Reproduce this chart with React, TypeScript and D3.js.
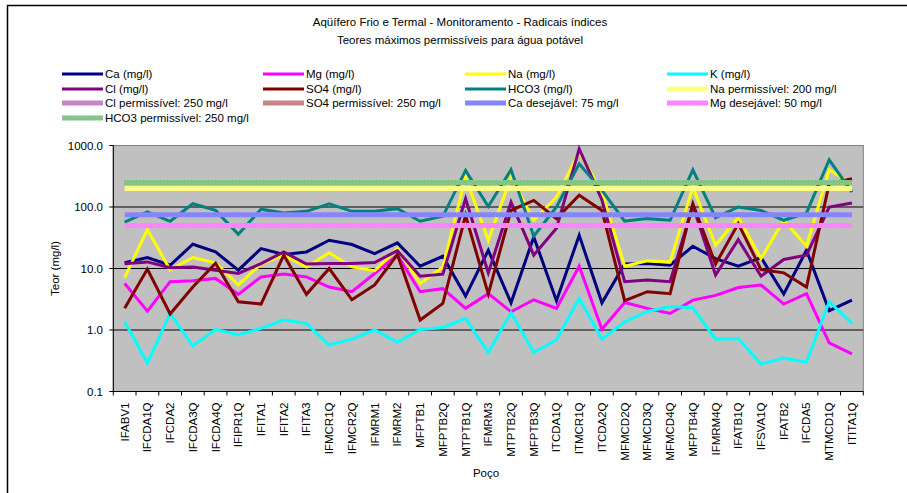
import React from 'react';
import * as d3 from 'd3';

// poços (eixo x)
const categories = [
  'IFABV1', 'IFCDA1Q', 'IFCDA2', 'IFCDA3Q', 'IFCDA4Q', 'IFIPR1Q', 'IFITA1', 'IFITA2', 'IFITA3',
  'IFMCR1Q', 'IFMCR2Q', 'IFMRM1', 'IFMRM2', 'MFPTB1', 'MFPTB2Q', 'MTPTB1Q', 'IFMRM3', 'MTPTB2Q',
  'MFPTB3Q', 'ITCDA1Q', 'ITMCR1Q', 'ITCDA2Q', 'MFMCD2Q', 'MFMCD3Q', 'MFMCD4Q', 'MFPTB4Q',
  'IFMRM4Q', 'IFATB1Q', 'IFSVA1Q', 'IFATB2', 'IFCDA5', 'MTMCD1Q', 'ITITA1Q',
];

const ca = [12.4, 15.1, 11.3, 24.8, 18.6, 9.4, 21.1, 16.9, 18.6, 28.8, 24.5, 17.5, 26.1, 10.9, 15.8, 3.56, 19.8, 2.77, 32.6, 2.99, 34.7, 2.77, 11.8, 12.1, 11.3, 23, 14.5, 10.9, 15.1, 3.84, 19.8, 2.06, 3.06];
const mg = [5.7, 2.03, 6.1, 6.3, 6.9, 3.8, 7.3, 8.1, 7.3, 5.0, 4.2, 8.3, 16.5, 4.2, 4.7, 2.25, 3.9, 1.98, 3.1, 2.25, 10.9, 1.03, 2.8, 2.25, 1.86, 3.06, 3.65, 4.9, 5.4, 2.64, 3.9, 0.62, 0.41];
const na = [7.1, 42.9, 9.5, 15.1, 12.4, 5.4, 11.8, 16.5, 10.6, 18, 10.6, 9.2, 21.1, 5.7, 10.5, 306, 28.8, 306, 60.8, 145, 780, 175, 10.9, 13.3, 12.7, 211, 23.9, 67, 14.5, 60.8, 23, 403, 239];
const k = [1.36, 0.29, 1.86, 0.55, 1.02, 0.83, 1.06, 1.45, 1.28, 0.57, 0.71, 1.0, 0.63, 1.02, 1.1, 1.55, 0.43, 1.91, 0.43, 0.69, 3.26, 0.71, 1.36, 2.0, 2.4, 2.3, 0.71, 0.73, 0.28, 0.35, 0.3, 2.88, 1.28];
const cl = [12.0, 12.8, 10.3, 10.6, 9.4, 8.3, 12.0, 18.6, 11.8, 12.1, 12.1, 12.5, 19.5, 7.5, 8.1, 137, 8.5, 120, 16.5, 45, 883, 130, 6.1, 6.5, 6.1, 106, 7.8, 29.5, 7.5, 14, 16.5, 100, 116];
const so4 = [2.25, 9.8, 1.82, 5.0, 12.2, 2.88, 2.64, 16.5, 3.8, 10, 3.1, 5.4, 16.9, 1.45, 2.7, 73, 3.84, 88, 128, 64.7, 155, 88, 3.0, 4.2, 3.9, 113, 11.8, 53.7, 9.6, 8.5, 5.0, 239, 288];
const hco3 = [57, 83, 58.6, 113, 88, 36, 92, 80, 85, 113, 85, 85, 94, 58.6, 70.6, 393, 102, 403, 33.5, 100, 504, 186, 59, 64.7, 60.8, 403, 67, 100, 88, 60.8, 80, 586, 175];

// limites (mg/l)
const limitNames = ['Na permissível: 200 mg/l', 'Cl permissível: 250 mg/l', 'SO4 permissível: 250 mg/l', 'Ca desejável: 75 mg/l', 'Mg desejável: 50 mg/l', 'HCO3 permissível: 250 mg/l'];
const limitValues = [200, 250, 250, 75, 50, 250];

const yTicks = [0.1, 1, 10, 100, 1000];

const series = [
  { name: 'Ca (mg/l)', values: ca, color: '#000080' },
  { name: 'Mg (mg/l)', values: mg, color: '#FF00FF' },
  { name: 'Na (mg/l)', values: na, color: '#FFFF00' },
  { name: 'K (mg/l)', values: k, color: '#00FFFF' },
  { name: 'Cl (mg/l)', values: cl, color: '#800080' },
  { name: 'SO4 (mg/l)', values: so4, color: '#800000' },
  { name: 'HCO3 (mg/l)', values: hco3, color: '#008080' },
];

const limitColors = [
  ['#FFFF80', '#FFFF99'],
  ['#C080C0', '#D098D0'],
  ['#C08080', '#D09898'],
  ['#8080FF', '#9898FF'],
  ['#FF80FF', '#FF99FF'],
  ['#80C080', '#98D098'],
];

const W = 907;
const H = 493;
const plot = { left: 113.3, right: 863.3, top: 145.5, bottom: 391.5 };
const font = '"Liberation Sans", Arial, sans-serif';

export default function App() {
  const x = d3.scaleBand().domain(categories).range([plot.left, plot.right]);
  const y = d3.scaleLog().domain([0.1, 1000]).range([plot.bottom, plot.top]);
  const cx = (c: string) => (x(c) as number) + x.bandwidth() / 2;

  const line = d3
    .line<number>()
    .x((_, i) => cx(categories[i]))
    .y((d) => y(d));

  const limits = limitNames.map((name, j) => ({
    name,
    values: categories.map(() => limitValues[j]),
    pat: `pat${j}`,
  }));

  // legenda em 4 colunas, ordem do Excel
  const legendItems = [
    ...series.map((s) => ({ name: s.name, stroke: s.color, w: 3 })),
    ...limits.map((l) => ({ name: l.name, stroke: `url(#${l.pat})`, w: 5 })),
  ];
  const colX = [62, 263, 465, 667];
  const rowY = [74, 89, 103, 118];

  return (
    <svg width={W} height={H} style={{ position: 'absolute', left: 0, top: 0 }} fontFamily={font}>
      <defs>
        {limitColors.map(([a, b], j) => (
          <pattern key={j} id={`pat${j}`} width={3} height={3} patternUnits="userSpaceOnUse">
            <rect width={3} height={3} fill={a} />
            <rect x={0} y={0} width={1} height={1} fill={b} />
            <rect x={1.5} y={1.5} width={1} height={1} fill={b} />
          </pattern>
        ))}
      </defs>
      <rect width={W} height={H} fill="#fff" />
      <rect x={7.5} y={5.5} width={W + 20} height={H + 20} fill="none" stroke="#000" strokeWidth={1.5} />

      <text x={460} y={26} textAnchor="middle" fontSize={11.5}>
        Aqüífero Frio e Termal - Monitoramento - Radicais índices
      </text>
      <text x={460} y={44} textAnchor="middle" fontSize={11.5}>
        Teores máximos permissíveis para água potável
      </text>

      {legendItems.map((it, i) => {
        const lx = colX[i % 4];
        const ly = rowY[Math.floor(i / 4)];
        return (
          <g key={it.name}>
            <line x1={lx} x2={lx + 41} y1={ly} y2={ly} stroke={it.stroke} strokeWidth={it.w} />
            <text x={lx + 43} y={ly + 4} fontSize={11.5}>
              {it.name}
            </text>
          </g>
        );
      })}

      <rect
        x={plot.left}
        y={plot.top}
        width={plot.right - plot.left}
        height={plot.bottom - plot.top}
        fill="#C0C0C0"
        stroke="#808080"
      />
      {yTicks.slice(1, -1).map((t) => (
        <line key={t} x1={plot.left} x2={plot.right} y1={y(t)} y2={y(t)} stroke="#000" strokeWidth={1} />
      ))}

      {/* eixo y */}
      <line x1={plot.left} x2={plot.left} y1={plot.top} y2={plot.bottom} stroke="#000" />
      {yTicks.map((t) => (
        <g key={t}>
          <line x1={plot.left - 4} x2={plot.left} y1={y(t)} y2={y(t)} stroke="#000" />
          <text x={103} y={y(t) + 4} textAnchor="end" fontSize={11.5}>
            {t.toFixed(1)}
          </text>
        </g>
      ))}
      <text
        transform={`translate(59,${(plot.top + plot.bottom) / 2}) rotate(-90)`}
        textAnchor="middle"
        fontSize={11.5}
      >
        Teor (mg/l)
      </text>

      {/* eixo x */}
      <line x1={plot.left} x2={plot.right} y1={plot.bottom} y2={plot.bottom} stroke="#000" />
      {categories.map((c) => (
        <line key={c} x1={x(c)} x2={x(c)} y1={plot.bottom} y2={plot.bottom + 4} stroke="#000" />
      ))}
      <line x1={plot.right} x2={plot.right} y1={plot.bottom} y2={plot.bottom + 4} stroke="#000" />
      {categories.map((c) => (
        <text
          key={c}
          transform={`translate(${cx(c) + 4},${plot.bottom + 11}) rotate(-90)`}
          textAnchor="end"
          fontSize={11.5}
        >
          {c}
        </text>
      ))}
      <text x={486} y={477} textAnchor="middle" fontSize={11.5}>
        Poço
      </text>

      {series.map((s) => (
        <path key={s.name} d={line(s.values) as string} fill="none" stroke={s.color} strokeWidth={3} strokeLinejoin="miter" />
      ))}
      {limits.map((l) => (
        <path key={l.name} d={line(l.values) as string} fill="none" stroke={`url(#${l.pat})`} strokeWidth={5} />
      ))}
    </svg>
  );
}
